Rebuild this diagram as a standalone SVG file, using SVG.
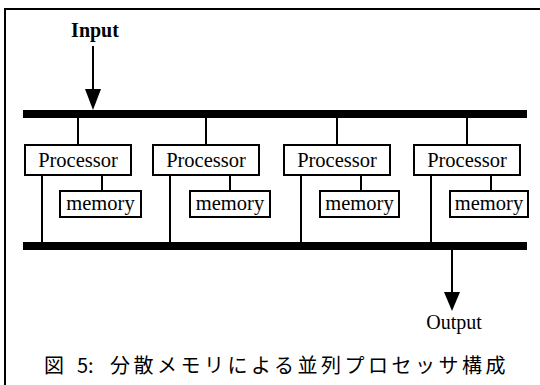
<svg xmlns="http://www.w3.org/2000/svg" width="540" height="385" viewBox="0 0 540 385">
<style>
.box{fill:#fff;stroke:#000;stroke-width:2}
.ln{stroke:#000;stroke-width:2;fill:none}
.bus{fill:#000}
.t{font-family:"Liberation Serif","Times New Roman",serif;font-size:20.5px;fill:#000;text-anchor:middle}
.io{font-family:"Liberation Serif","Times New Roman",serif;font-size:20px;fill:#000;text-anchor:middle}
.cap{font-family:"Noto Sans CJK JP","Noto Sans CJK SC",sans-serif;font-size:20px;fill:#000}
</style>
<rect width="540" height="385" fill="#fff"/>
<g id="frame">
<path class="ln" d="M5,385 V9 H540"/>
</g>
<g id="connectors">
<rect class="bus" x="23" y="110" width="504" height="8"/>
<rect class="bus" x="23" y="242" width="504" height="8"/>
<line class="ln" x1="93" y1="46" x2="93" y2="92"/>
<polygon points="85,89 101,89 93,110" fill="#000"/>
<line class="ln" x1="452" y1="250" x2="452" y2="295"/>
<polygon points="444,292 460,292 452,311" fill="#000"/>
<path class="ln" d="M78,118V145 M206,118V145 M337,118V145 M467,118V145"/>
<path class="ln" d="M102,175V191 M230,175V191 M361,175V191 M491,175V191"/>
<path class="ln" d="M42,175V242 M170,175V242 M301,175V242 M431,175V242"/>
</g>
<g id="input"><text class="io" x="95" y="37" font-weight="bold" font-size="19">Input</text></g>
<g id="output"><text class="io" x="454" y="329">Output</text></g>
<g id="p1"><rect class="box" x="25" y="145" width="106" height="30"/><text class="t" x="78" y="167">Processor</text></g>
<g id="p2"><rect class="box" x="153" y="145" width="106" height="30"/><text class="t" x="206" y="167">Processor</text></g>
<g id="p3"><rect class="box" x="284" y="145" width="106" height="30"/><text class="t" x="337" y="167">Processor</text></g>
<g id="p4"><rect class="box" x="414" y="145" width="106" height="30"/><text class="t" x="467" y="167">Processor</text></g>
<g id="m1"><rect class="box" x="60" y="191" width="81" height="26"/><text class="t" x="100.5" y="210">memory</text></g>
<g id="m2"><rect class="box" x="190" y="191" width="80" height="26"/><text class="t" x="230" y="210">memory</text></g>
<g id="m3"><rect class="box" x="320" y="191" width="79" height="26"/><text class="t" x="359.5" y="210">memory</text></g>
<g id="m4"><rect class="box" x="450" y="191" width="78" height="26"/><text class="t" x="489" y="210">memory</text></g>
<g id="caption"><text class="cap" y="373"><tspan x="44">図</tspan><tspan x="77">5:</tspan><tspan x="110" letter-spacing="3.5">分散メモリによる並列プロセッサ構成</tspan></text></g>
</svg>
